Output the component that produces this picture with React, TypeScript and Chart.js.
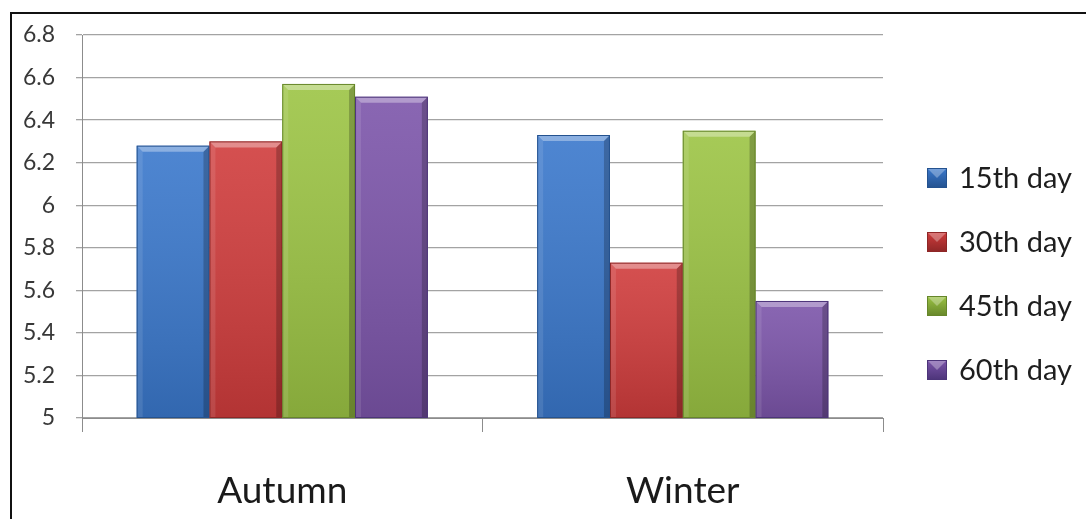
import React, { useEffect, useRef } from 'react';
import { Chart, registerables } from 'chart.js';

Chart.register(...registerables);

const categories = ['Autumn', 'Winter'];
const seriesLabels = ['15th day', '30th day', '45th day', '60th day'];
const day15 = [6.28, 6.33];
const day30 = [6.3, 5.73];
const day45 = [6.57, 6.35];
const day60 = [6.51, 5.55];
const yTickLabels = ['5', '5.2', '5.4', '5.6', '5.8', '6', '6.2', '6.4', '6.6', '6.8'];
const yMin = 5;
const yMax = 6.8;
const yStep = 0.2;

const seriesColors = ['#3a78cc', '#d03c3c', '#9cc444', '#7c55aa'];
const seriesEdges = ['#24528f', '#8e2626', '#66862a', '#4c3479'];

const bevelPlugin = {
  id: 'bevel',
  afterDatasetsDraw(chart: any) {
    const ctx = chart.ctx;
    const area = chart.chartArea;
    chart.data.datasets.forEach((_ds: any, di: number) => {
      const meta = chart.getDatasetMeta(di);
      meta.data.forEach((bar: any) => {
        const { x, y, base, width } = bar.getProps(['x', 'y', 'base', 'width'], true);
        const l = x - width / 2;
        const r = x + width / 2;
        const t = Math.max(Math.min(y, base), area.top);
        const b = Math.min(Math.max(y, base), area.bottom);
        const bw = 6;
        ctx.save();
        ctx.beginPath();
        ctx.rect(area.left, area.top, area.right - area.left, area.bottom - area.top);
        ctx.clip();
        const g = ctx.createLinearGradient(0, t, 0, b);
        g.addColorStop(0, 'rgba(255,255,255,0.10)');
        g.addColorStop(1, 'rgba(0,0,0,0.14)');
        ctx.fillStyle = g;
        ctx.fillRect(l, t, width, b - t);
        ctx.fillStyle = 'rgba(255,255,255,0.10)';
        ctx.beginPath();
        ctx.moveTo(l, t);
        ctx.lineTo(l + bw, t + bw);
        ctx.lineTo(l + bw, b);
        ctx.lineTo(l, b);
        ctx.closePath();
        ctx.fill();
        ctx.fillStyle = 'rgba(0,0,0,0.22)';
        ctx.beginPath();
        ctx.moveTo(r, t);
        ctx.lineTo(r - bw, t + bw);
        ctx.lineTo(r - bw, b);
        ctx.lineTo(r, b);
        ctx.closePath();
        ctx.fill();
        ctx.fillStyle = 'rgba(255,255,255,0.35)';
        ctx.beginPath();
        ctx.moveTo(l, t);
        ctx.lineTo(r, t);
        ctx.lineTo(r - bw, t + bw);
        ctx.lineTo(l + bw, t + bw);
        ctx.closePath();
        ctx.fill();
        ctx.strokeStyle = seriesEdges[di];
        ctx.lineWidth = 1;
        ctx.strokeRect(l + 0.5, t + 0.5, width - 1, b - t - 1);
        ctx.restore();
      });
    });
  },
};

const legendPlugin = {
  id: 'sideLegend',
  afterDraw(chart: any) {
    const ctx = chart.ctx;
    const startY = 178;
    const gap = 64;
    const boxX = 927;
    const box = 20;
    ctx.save();
    chart.data.datasets.forEach((ds: any, i: number) => {
      const cy = startY + i * gap;
      const g = ctx.createLinearGradient(0, cy - box / 2, 0, cy + box / 2);
      g.addColorStop(0, seriesColors[i]);
      g.addColorStop(1, seriesEdges[i]);
      ctx.fillStyle = g;
      ctx.fillRect(boxX, cy - box / 2, box, box);
      ctx.fillStyle = 'rgba(255,255,255,0.3)';
      ctx.beginPath();
      ctx.moveTo(boxX, cy - box / 2);
      ctx.lineTo(boxX + box, cy - box / 2);
      ctx.lineTo(boxX + box / 2, cy);
      ctx.closePath();
      ctx.fill();
      ctx.strokeStyle = seriesEdges[i];
      ctx.lineWidth = 1;
      ctx.strokeRect(boxX + 0.5, cy - box / 2 + 0.5, box - 1, box - 1);
      ctx.fillStyle = '#1e1e1e';
      ctx.font = '29px Lato';
      ctx.textAlign = 'left';
      ctx.textBaseline = 'middle';
      ctx.fillText(ds.label, 959, cy + 1);
    });
    ctx.restore();
  },
};

export default function App() {
  const canvasRef = useRef<HTMLCanvasElement | null>(null);

  useEffect(() => {
    const canvas = canvasRef.current;
    if (!canvas) return;
    const seriesValues = [day15, day30, day45, day60];
    const chart = new Chart(canvas, {
      type: 'bar',
      data: {
        labels: categories,
        datasets: seriesLabels.map((label, i) => ({
          label,
          data: seriesValues[i],
          backgroundColor: seriesColors[i],
          borderWidth: 0,
          categoryPercentage: 0.727,
          barPercentage: 1.0,
        })),
      },
      options: {
        responsive: false,
        animation: false,
        layout: { padding: { top: 35, right: 203, left: 0, bottom: 0 } },
        plugins: {
          legend: { display: false },
          tooltip: { enabled: false },
        },
        scales: {
          x: {
            grid: {
              display: true,
              drawOnChartArea: false,
              drawTicks: true,
              tickLength: 14,
              color: '#8c8c8c',
              offset: true,
            },
            border: { display: true, color: '#8c8c8c', width: 1 },
            ticks: {
              font: { family: 'Lato', size: 37 },
              color: '#1a1a1a',
              padding: 37,
            },
            afterFit: (s: any) => {
              s.height = 101;
            },
          },
          y: {
            min: yMin,
            max: yMax,
            ticks: {
              stepSize: yStep,
              callback: (_v: any, i: number) => yTickLabels[i],
              font: { family: 'Lato', size: 23 },
              color: '#383838',
              padding: 21,
            },
            grid: { color: '#a3a3a3', tickLength: 6, lineWidth: 1.3 },
            border: { display: true, color: '#8c8c8c', width: 1 },
            afterFit: (s: any) => {
              s.width = 82;
            },
          },
        },
      },
      plugins: [bevelPlugin, legendPlugin],
    });
    return () => chart.destroy();
  }, []);

  return (
    <div
      style={{
        position: 'fixed',
        left: 0,
        top: 0,
        width: 1086,
        height: 519,
        background: '#ffffff',
        overflow: 'hidden',
      }}
    >
      <div
        style={{
          position: 'absolute',
          left: 10,
          top: 12,
          width: 1100,
          height: 540,
          border: '2px solid #111111',
        }}
      />
      <canvas
        ref={canvasRef}
        width={1086}
        height={519}
        style={{ position: 'absolute', left: 0, top: 0, width: 1086, height: 519 }}
      />
    </div>
  );
}
